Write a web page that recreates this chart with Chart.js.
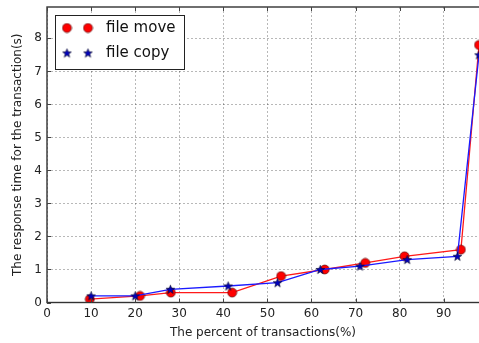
<!DOCTYPE html>
<html>
<head>
<meta charset="utf-8">
<script src="https://cdn.jsdelivr.net/npm/chart.js@4/dist/chart.umd.min.js"></script>
<style>
  html, body { margin: 0; padding: 0; background: #fff; }
  #wrap { width: 479px; height: 343px; }
</style>
</head>
<body>
<div id="wrap"><canvas id="c" width="479" height="343"></canvas></div>
<script>
// Response time measurements
const moveX = [9.7, 21.1, 28.1, 42, 53.1, 63, 72.2, 81.1, 93.9, 98];
const moveY = [0.1, 0.2, 0.3, 0.3, 0.8, 1.0, 1.2, 1.4, 1.6, 7.8];
const copyX = [10, 20, 28, 41.1, 52.3, 62, 71, 81.7, 93.1, 98];
const copyY = [0.2, 0.2, 0.4, 0.5, 0.6, 1.0, 1.1, 1.3, 1.4, 7.5];
const seriesNames = ['file move', 'file copy'];
const xTicks = [0, 10, 20, 30, 40, 50, 60, 70, 80, 90];
const yTicks = [0, 1, 2, 3, 4, 5, 6, 7, 8];
const xTitle = 'The percent of transactions(%)';
const yTitle = 'The response time for the transaction(s)';

const FONT = "'DejaVu Sans', 'Liberation Sans', sans-serif";

// Filled circle marker
function makeCircle() {
  const s = 11, c = document.createElement('canvas');
  c.width = s; c.height = s;
  const g = c.getContext('2d');
  g.beginPath();
  g.arc(s / 2, s / 2, 4.5, 0, Math.PI * 2);
  g.fillStyle = '#ff0000';
  g.fill();
  g.lineWidth = 0.6;
  g.strokeStyle = '#400000';
  g.stroke();
  return c;
}
// Filled five-pointed star marker
function makeStar() {
  const s = 11, c = document.createElement('canvas');
  c.width = s; c.height = s;
  const g = c.getContext('2d');
  const cx = s / 2, cy = s / 2 + 0.4, ro = 4.6, ri = 1.9;
  g.beginPath();
  for (let i = 0; i < 10; i++) {
    const r = i % 2 === 0 ? ro : ri;
    const a = -Math.PI / 2 + i * Math.PI / 5;
    const px = cx + r * Math.cos(a), py = cy + r * Math.sin(a);
    if (i === 0) g.moveTo(px, py); else g.lineTo(px, py);
  }
  g.closePath();
  g.fillStyle = '#0000c0';
  g.fill();
  g.lineWidth = 0.6;
  g.strokeStyle = '#000020';
  g.stroke();
  return c;
}
const circleImg = makeCircle();
const starImg = makeStar();

const toPoints = (xs, ys) => xs.map((x, i) => ({ x: x, y: ys[i] }));

// Frame, inward tick marks and boxed legend drawn on top of the plot
const framePlugin = {
  id: 'frame',
  afterDatasetsDraw(chart) {
    const { ctx, chartArea: a, scales } = chart;
    ctx.save();
    ctx.strokeStyle = '#333';
    ctx.lineWidth = 1.4;
    ctx.strokeRect(a.left, a.top, a.right - a.left + 2, a.bottom - a.top);
    ctx.lineWidth = 1;
    ctx.strokeStyle = '#444';
    const tl = 4;
    xTicks.forEach(v => {
      const px = Math.round(scales.x.getPixelForValue(v)) + 0.5;
      ctx.beginPath();
      ctx.moveTo(px, a.bottom); ctx.lineTo(px, a.bottom - tl);
      ctx.moveTo(px, a.top); ctx.lineTo(px, a.top + tl);
      ctx.stroke();
    });
    yTicks.forEach(v => {
      const py = Math.round(scales.y.getPixelForValue(v)) + 0.5;
      ctx.beginPath();
      ctx.moveTo(a.left, py); ctx.lineTo(a.left + tl, py);
      ctx.stroke();
    });

    // legend
    const lx = a.left + 8, ly = a.top + 8, lw = 129, lh = 54;
    ctx.fillStyle = '#fff';
    ctx.fillRect(lx, ly, lw, lh);
    ctx.strokeStyle = '#222';
    ctx.lineWidth = 1;
    ctx.strokeRect(lx + 0.5, ly + 0.5, lw, lh);
    const imgs = [circleImg, starImg];
    ctx.font = '15px ' + FONT;
    ctx.fillStyle = '#111';
    ctx.textBaseline = 'middle';
    ctx.textAlign = 'left';
    seriesNames.forEach((name, i) => {
      const cy = ly + 13 + i * 25;
      [lx + 12, lx + 33].forEach(mx => {
        ctx.drawImage(imgs[i], mx - imgs[i].width / 2, cy - imgs[i].height / 2);
      });
      ctx.fillText(name, lx + 51, cy);
    });
    ctx.restore();
  }
};

const gridStyle = {
  color: 'rgba(0,0,0,0.28)',
  lineWidth: 1,
  drawTicks: false
};

new Chart(document.getElementById('c'), {
  type: 'line',
  data: {
    datasets: [
      {
        label: seriesNames[0],
        data: toPoints(moveX, moveY),
        borderColor: '#ff1a1a',
        borderWidth: 1.3,
        pointStyle: circleImg,
        pointRadius: 5,
        pointHoverRadius: 5,
        order: 2,
        tension: 0,
        fill: false
      },
      {
        label: seriesNames[1],
        data: toPoints(copyX, copyY),
        borderColor: '#1a1aff',
        borderWidth: 1.3,
        pointStyle: starImg,
        pointRadius: 5,
        pointHoverRadius: 5,
        order: 1,
        tension: 0,
        fill: false
      }
    ]
  },
  options: {
    responsive: false,
    animation: false,
    events: [],
    layout: { autoPadding: false, padding: { top: 7, right: 0, left: 0, bottom: 0 } },
    plugins: {
      legend: { display: false },
      tooltip: { enabled: false }
    },
    scales: {
      x: {
        type: 'linear',
        min: 0,
        max: 98,
        grid: gridStyle,
        border: { display: false, dash: [2, 2] },
        afterBuildTicks: s => { s.ticks = xTicks.map(v => ({ value: v })); },
        afterFit: s => { s.height = 40.5; s.paddingRight = 0; s.paddingLeft = 0; },
        ticks: {
          color: '#222',
          padding: 4,
          maxRotation: 0,
          font: { family: FONT, size: 12 }
        },
        title: {
          display: true,
          text: xTitle,
          color: '#222',
          padding: { top: 0, bottom: 3 },
          font: { family: FONT, size: 12 }
        }
      },
      y: {
        type: 'linear',
        min: 0,
        max: 8.95,
        grid: gridStyle,
        border: { display: false, dash: [2, 2] },
        afterBuildTicks: s => { s.ticks = yTicks.map(v => ({ value: v })); },
        afterFit: s => { s.width = 47; s.paddingTop = 0; s.paddingBottom = 0; },
        ticks: {
          color: '#222',
          padding: 5,
          font: { family: FONT, size: 12 }
        },
        title: {
          display: true,
          text: yTitle,
          color: '#222',
          padding: { top: 11, bottom: 0 },
          font: { family: FONT, size: 12 }
        }
      }
    }
  },
  plugins: [framePlugin]
});
</script>
</body>
</html>
